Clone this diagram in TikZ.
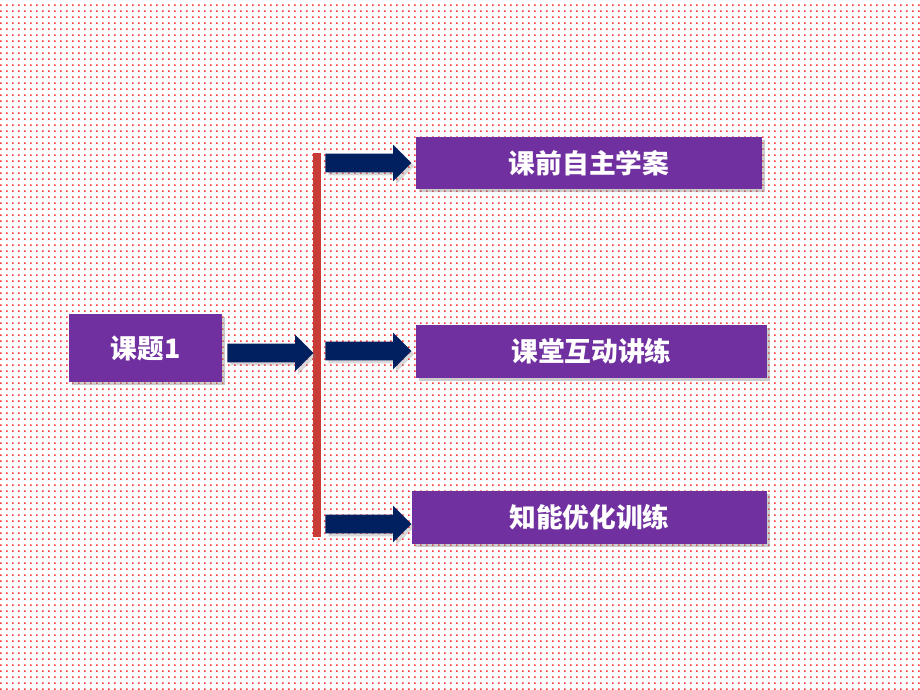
\documentclass[tikz,border=0pt]{standalone}
\usepackage{fontspec}
\newfontfamily\cjk{Noto Sans CJK SC}
\usetikzlibrary{shapes.arrows,shadows,patterns}
\definecolor{boxpurple}{RGB}{112,48,160}
\definecolor{arrowblue}{RGB}{0,32,96}
\definecolor{barred}{RGB}{200,60,55}
\pgfdeclarepatternformonly{reddots}{\pgfpointorigin}{\pgfpoint{4.27pt}{4.27pt}}{\pgfpoint{4.27pt}{4.27pt}}{%
  \pgfpathrectangle{\pgfpoint{1pt}{1pt}}{\pgfpoint{1.2pt}{1.2pt}}\pgfusepath{fill}}
\tikzset{
  box/.style={draw=none,fill=boxpurple,text=white,font=\cjk\bfseries\fontsize{19}{19}\selectfont,
    inner sep=0pt,drop shadow={opacity=.4}},
  arr/.style={single arrow,fill=arrowblue,draw=none,minimum height=2.15cm,
    single arrow head extend=0.225cm,minimum width=0pt,inner xsep=0pt,inner ysep=0.225cm,
    anchor=west,drop shadow={opacity=.3}}
}
\begin{document}
\begin{tikzpicture}[x=0.025cm,y=-0.025cm]
        \fill[white](0,0)rectangle(920,690);
        \fill[pattern=reddots,pattern color=red!80](0,0)rectangle(920,690);
        \useasboundingbox(0,0)rectangle(920,690);

        \node[box,minimum width=3.83cm,minimum height=1.7cm](topic)at(145.5,348){课题1};
        \node[box,minimum width=8.65cm,minimum height=1.3cm](pre)at(589,163){课前自主学案};
        \node[box,minimum width=8.78cm,minimum height=1.33cm](class)at(591.5,351.5){课堂互动讲练};
        \node[box,minimum width=8.88cm,minimum height=1.33cm](post)at(589.5,517.5){知能优化训练};

        \fill[barred](313,153)rectangle(321,537);

        \node[arr](a0)at(227,353){};
        \node[arr](a1)at(325,163){};
        \node[arr](a2)at(325,351){};
        \node[arr](a3)at(325,524){};
\end{tikzpicture}
\end{document}
